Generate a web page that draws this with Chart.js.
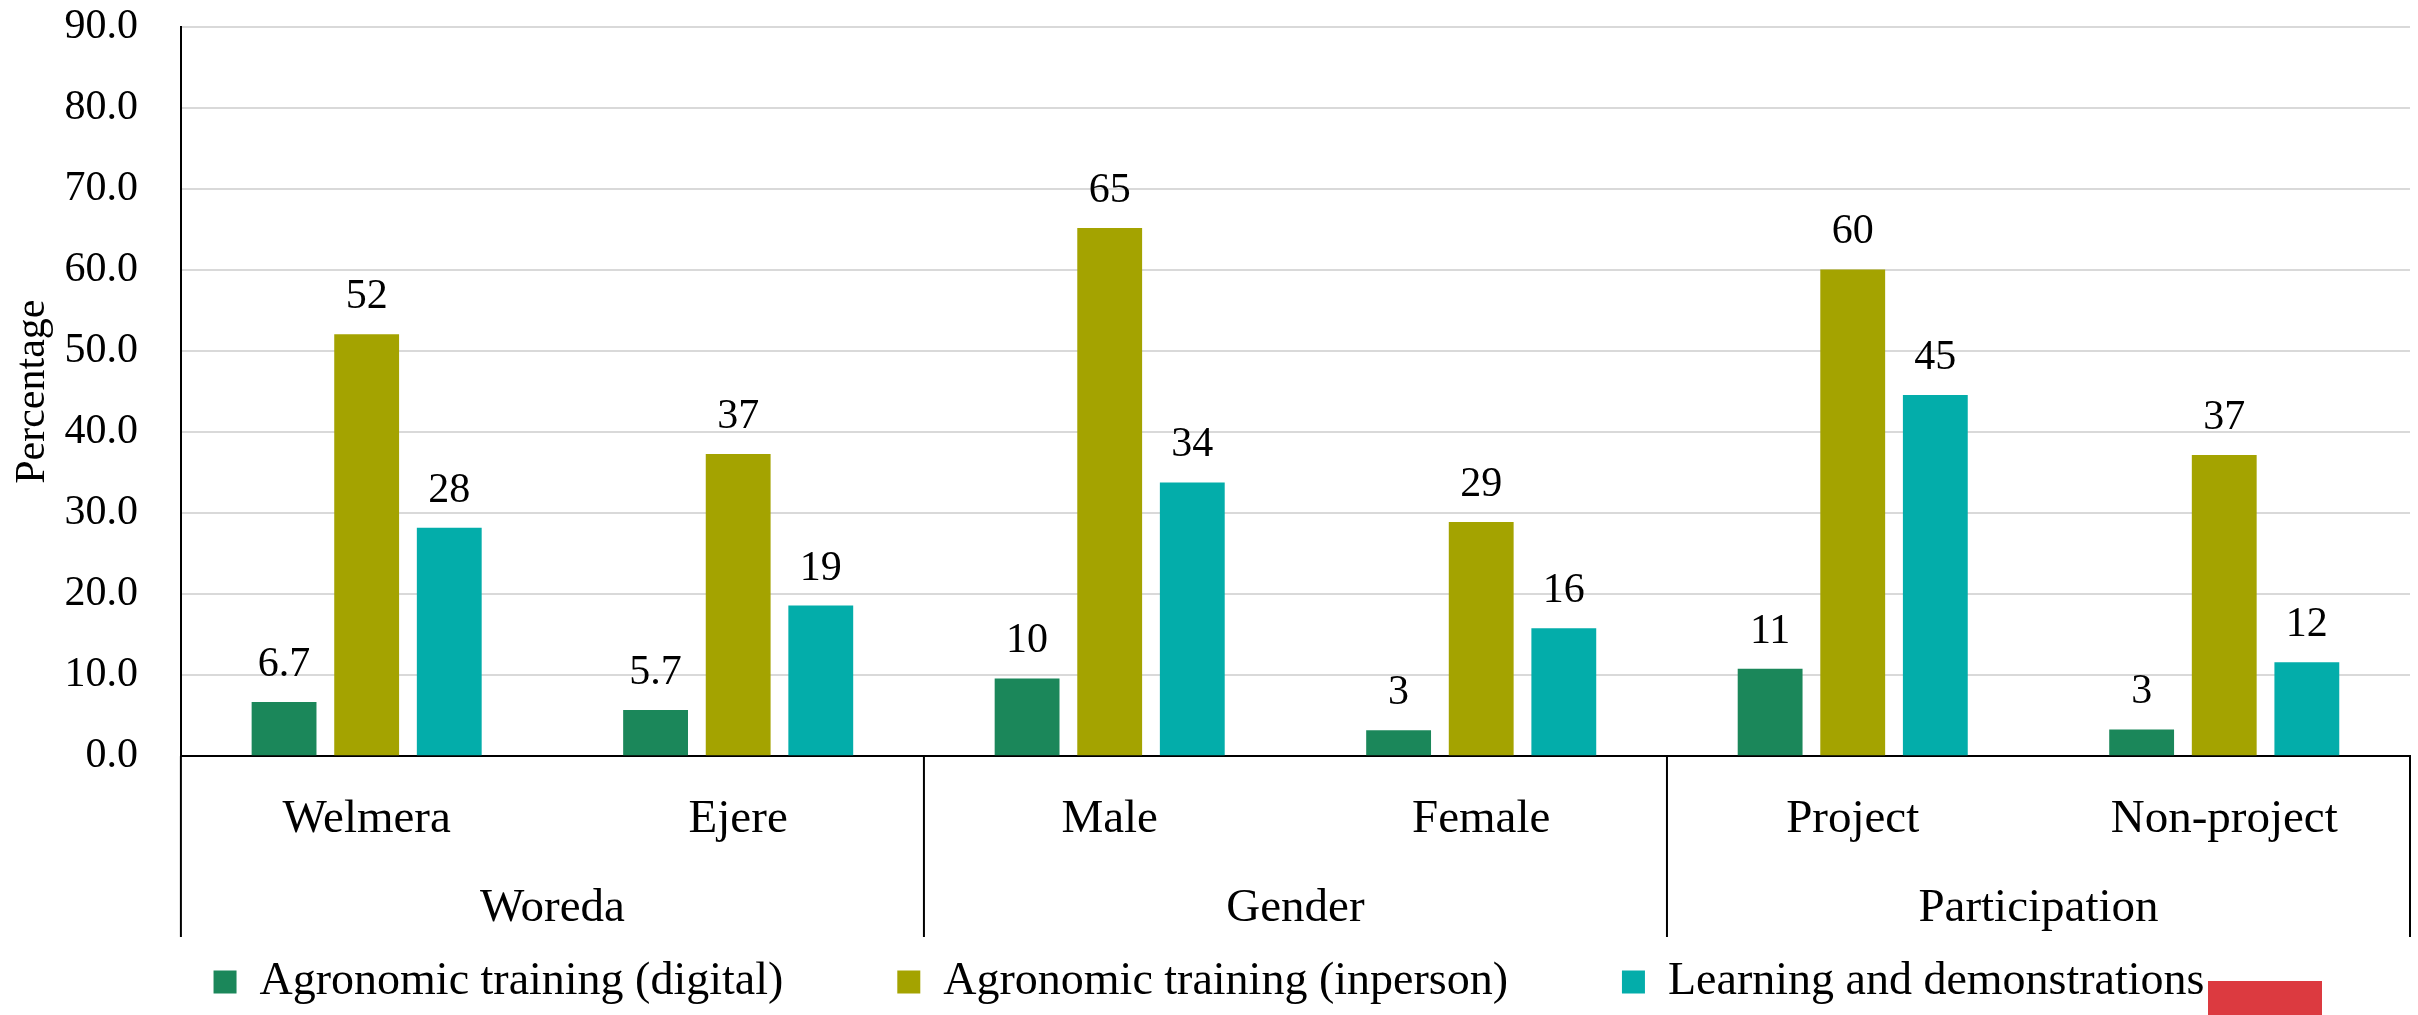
<!DOCTYPE html>
<html>
<head>
<meta charset="utf-8">
<script src="https://cdn.jsdelivr.net/npm/chart.js@4.4.1/dist/chart.umd.min.js"></script>
<style>
  html, body { margin: 0; padding: 0; background: #fff; }
  #wrap { width: 2418px; height: 1015px; }
</style>
</head>
<body>
<div id="wrap"><canvas id="myChart"></canvas></div>
<script>
const categories = ["Welmera", "Ejere", "Male", "Female", "Project", "Non-project"]
const groups = ["Woreda", "Gender", "Participation"]

const digital = [6.7, 5.7, 9.6, 3.2, 10.8, 3.3]
const inperson = [52.1, 37.3, 65.2, 28.9, 60.1, 37.2]
const demos = [28.2, 18.6, 33.8, 15.8, 44.6, 11.6]

const digitalLabels = ["6.7", "5.7", "10", "3", "11", "3"]
const inpersonLabels = ["52", "37", "65", "29", "60", "37"]
const demosLabels = ["28", "19", "34", "16", "45", "12"]

const yTicks = [0, 10, 20, 30, 40, 50, 60, 70, 80, 90]

const FONT = "'Liberation Serif', 'DejaVu Serif', serif"

const valueLabels = {
    id: 'valueLabels',
    afterDatasetsDraw(chart) {
        const ctx = chart.ctx
        ctx.save()
        ctx.font = "42px " + FONT
        ctx.fillStyle = '#000'
        ctx.textAlign = 'center'
        ctx.textBaseline = 'alphabetic'
        chart.data.datasets.forEach((ds, i) => {
            chart.getDatasetMeta(i).data.forEach((bar, j) => {
                ctx.fillText(ds.valueText[j], bar.x, bar.y - 26)
            })
        })
        ctx.restore()
    }
}

// vertical separators between the groups, down through both label rows
const groupLines = {
    id: 'groupLines',
    afterDraw(chart) {
        const x = chart.scales.x
        const x2 = chart.scales.x2
        const ctx = chart.ctx
        ctx.save()
        ctx.strokeStyle = '#000'
        ctx.lineWidth = 2
        for (let i = 0; i <= categories.length; i += 2) {
            let px
            if (i === 0) px = x.left
            else if (i === categories.length) px = x.right
            else px = (x.getPixelForTick(i - 1) + x.getPixelForTick(i)) / 2
            ctx.beginPath()
            ctx.moveTo(px, chart.chartArea.bottom)
            ctx.lineTo(px, x2.bottom)
            ctx.stroke()
        }
        ctx.restore()
    }
}

// small red logo block in the lower right corner of the original
const cornerMark = {
    id: 'cornerMark',
    afterDraw(chart) {
        const ctx = chart.ctx
        ctx.save()
        ctx.fillStyle = '#DC3A40'
        ctx.fillRect(2208, 981, 114, 34)
        ctx.restore()
    }
}

const data = {
    labels: categories,
    datasets: [{
        label: 'Agronomic training (digital)',
        backgroundColor: '#1B875A',
        data: digital,
        valueText: digitalLabels,
    }, {
        label: 'Agronomic training (inperson)',
        backgroundColor: '#A4A300',
        data: inperson,
        valueText: inpersonLabels,
    }, {
        label: 'Learning and demonstrations',
        backgroundColor: '#03ADAA',
        data: demos,
        valueText: demosLabels,
    }]
}

const config = {
    type: 'bar',
    data: data,
    plugins: [valueLabels, groupLines, cornerMark],
    options: {
        responsive: true,
        maintainAspectRatio: false,
        animation: false,
        categoryPercentage: 0.667,
        barPercentage: 0.785,
        layout: { padding: { top: 0, right: 8, left: 8, bottom: 0 } },
        scales: {
            x: {
                grid: {
                    offset: true,
                    drawOnChartArea: false,
                    drawTicks: true,
                    tickLength: 35,
                    tickColor: 'rgba(0,0,0,0)',
                },
                border: { color: '#000', width: 2 },
                ticks: {
                    color: '#000',
                    padding: 0,
                    font: { family: FONT, size: 47 },
                    maxRotation: 0,
                    autoSkip: false,
                }
            },
            x2: {
                type: 'category',
                labels: groups,
                position: 'bottom',
                offset: true,
                grid: {
                    offset: true,
                    drawOnChartArea: false,
                    drawTicks: true,
                    tickLength: 33,
                    tickColor: 'rgba(0,0,0,0)',
                },
                border: { display: false },
                ticks: {
                    color: '#000',
                    padding: 0,
                    font: { family: FONT, size: 47 },
                    maxRotation: 0,
                    autoSkip: false,
                }
            },
            y: {
                min: 0,
                max: 90,
                afterBuildTicks: (s) => { s.ticks = yTicks.map(v => ({ value: v })) },
                grid: {
                    color: '#D9D9D9',
                    lineWidth: 2,
                    drawTicks: true,
                    tickLength: 41,
                    tickColor: 'rgba(0,0,0,0)',
                },
                border: { color: '#000', width: 2 },
                ticks: {
                    color: '#000',
                    padding: 2,
                    font: { family: FONT, size: 42 },
                    callback: (v) => Number(v).toFixed(1),
                },
                title: {
                    display: true,
                    text: 'Percentage',
                    color: '#000',
                    font: { family: FONT, size: 42 },
                    padding: { top: 0, bottom: 4 },
                }
            }
        },
        plugins: {
            legend: {
                position: 'bottom',
                labels: {
                    color: '#000',
                    boxWidth: 23,
                    boxHeight: 23,
                    padding: 22,
                    font: { family: FONT, size: 46 },
                    // wider gaps between items without a taller legend
                    generateLabels: (chart) => Chart.defaults.plugins.legend.labels.generateLabels(chart)
                        .map((l, i) => ({ ...l, text: i < 2 ? l.text + '\u00a0'.repeat(8) : l.text })),
                }
            },
            tooltip: { enabled: false }
        }
    }
}

const myChart = new Chart('myChart', config)
</script>
</body>
</html>
